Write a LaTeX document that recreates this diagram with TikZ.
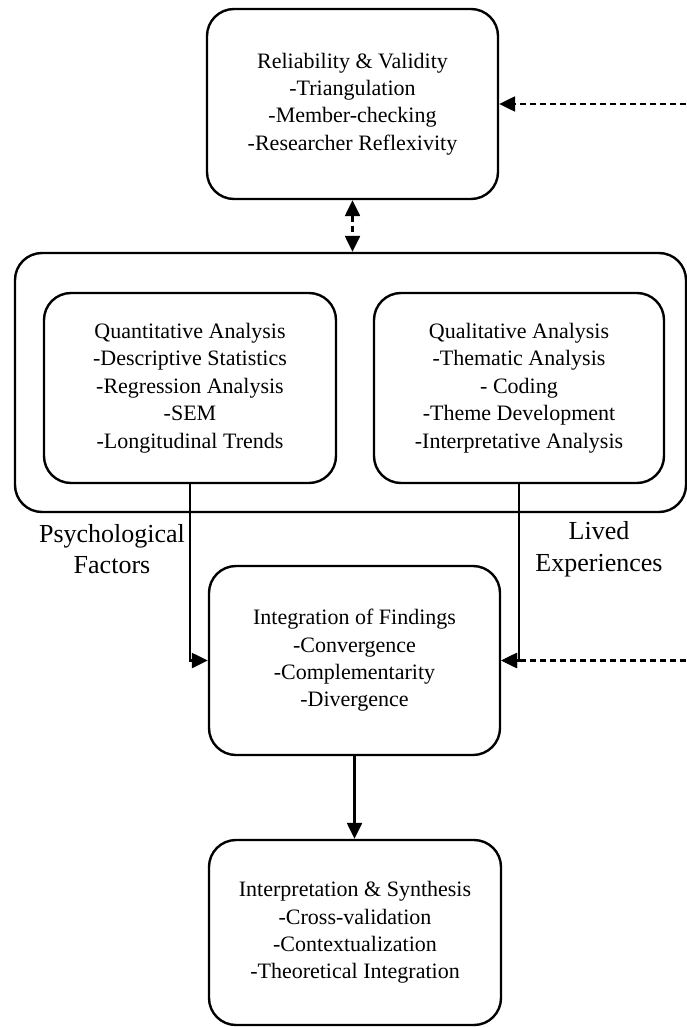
\documentclass[tikz,border=0pt]{standalone}
\usepackage{fontspec}
\setmainfont{Liberation Serif}
\usepackage{tikz}
\usetikzlibrary{arrows.meta, positioning, calc}

\tikzset{
  stagebox/.style={draw, line width=2.4pt, rounded corners=27pt, align=center,
    inner sep=0pt, font=\fontsize{22}{27.4}\selectfont},
  sidelabel/.style={align=center, inner sep=0pt, font=\fontsize{26}{31.7}\selectfont},
  flow/.style={line width=2.4pt, -{Triangle[length=16pt, width=15pt]}},
  feedback/.style={flow, dash pattern=on 6pt off 4pt},
}

\begin{document}
\begin{tikzpicture}[x=1pt, y=1pt]
  \useasboundingbox (0,0) rectangle (686,-1027);

  \node[stagebox, minimum width=291pt, minimum height=190pt] (relval) at (352.5,-104) {
    Reliability \& Validity\\
    -Triangulation\\
    -Member-checking\\
    -Researcher Reflexivity
  };

  \node[stagebox, minimum width=671pt, minimum height=259pt] (mixed) at (350.5,-382.5) {};

  \node[stagebox, minimum width=292pt, minimum height=190pt] (quant) at (190,-388) {
    Quantitative Analysis\\
    -Descriptive Statistics\\
    -Regression Analysis\\
    -SEM\\
    -Longitudinal Trends
  };
  \node[stagebox, minimum width=290pt, minimum height=190pt] (qual) at (519,-388) {
    Qualitative Analysis\\
    -Thematic Analysis\\
    - Coding\\
    -Theme Development\\
    -Interpretative Analysis
  };

  \node[sidelabel] (psych) at (112,-549) {Psychological\\Factors};
  \node[sidelabel] (lived) at (599,-549) {Lived\\Experiences};

  \node[stagebox, minimum width=291pt, minimum height=189pt] (integ) at (354.5,-660.5) {
    Integration of Findings\\
    -Convergence\\
    -Complementarity\\
    -Divergence
  };

  \node[stagebox, minimum width=292pt, minimum height=185pt] (interp) at (355,-932.5) {
    Interpretation \& Synthesis\\
    -Cross-validation\\
    -Contextualization\\
    -Theoretical Integration
  };

  \coordinate (fbtop) at (686,-104);
  \coordinate (fbmid) at (686,-660.5);

  \draw[flow] (quant.south) |- (integ.west);
  \draw[flow] (qual.south) |- (integ.east);
  \draw[flow] (integ.south) -- (integ.south |- interp.north);
  \draw[feedback, {Triangle[length=16pt, width=15pt]}-{Triangle[length=16pt, width=15pt]}] (relval.south) -- (relval.south |- mixed.north);
  \draw[feedback] (fbtop) -- (relval.east);
  \draw[feedback] (fbmid) -- (integ.east);
\end{tikzpicture}
\end{document}
